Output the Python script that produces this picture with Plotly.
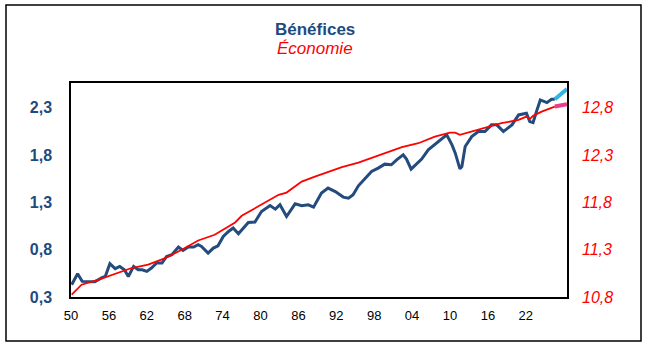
import plotly.graph_objects as go

# ---- data ----
profit_years = [1950.1, 1951.0, 1951.7, 1952.6, 1953.6, 1954.7, 1955.2, 1955.9, 1956.7, 1957.4,
                1958.1, 1958.7, 1959.5, 1960.2, 1960.8, 1961.5, 1962.2, 1963.0, 1963.8, 1964.5,
                1965.3, 1966.3, 1967.0, 1967.8, 1968.6, 1969.3, 1969.8, 1970.8, 1971.6, 1972.3,
                1973.1, 1973.9, 1974.6, 1975.4, 1976.9, 1977.9, 1978.9, 1980.2, 1981.0, 1981.7,
                1982.7, 1984.0, 1985.0, 1986.0, 1986.8, 1988.0, 1989.0, 1990.1, 1991.3, 1992.1,
                1992.8, 1993.6, 1994.6, 1995.6, 1996.6, 1997.6, 1998.6, 1999.4, 2000.4, 2000.9,
                2001.6, 2002.5, 2003.2, 2004.2, 2005.7, 2007.0, 2007.8, 2008.3, 2009.0, 2009.3,
                2009.8, 2010.8, 2011.8, 2012.8, 2013.8, 2014.6, 2015.6, 2016.9, 2017.9, 2019.1,
                2019.6, 2020.1, 2020.7, 2021.2, 2022.2, 2022.9, 2023.4]
profits = [0.43, 0.546, 0.465, 0.465, 0.461, 0.504, 0.517, 0.651, 0.599, 0.623,
           0.588, 0.517, 0.623, 0.588, 0.588, 0.570, 0.606, 0.659, 0.659, 0.728,
           0.746, 0.827, 0.792, 0.827, 0.827, 0.852, 0.834, 0.764, 0.817, 0.841,
           0.939, 0.992, 1.028, 0.968, 1.087, 1.091, 1.203, 1.266, 1.228, 1.274,
           1.150, 1.284, 1.263, 1.274, 1.249, 1.397, 1.450, 1.414, 1.355, 1.344,
           1.379, 1.474, 1.555, 1.625, 1.661, 1.703, 1.696, 1.748, 1.801, 1.756,
           1.650, 1.714, 1.756, 1.854, 1.941, 2.012, 1.907, 1.819, 1.653, 1.678,
           1.889, 1.994, 2.047, 2.047, 2.118, 2.118, 2.047, 2.118, 2.223, 2.241,
           2.152, 2.142, 2.276, 2.381, 2.353, 2.389, 2.389]
profit_recent_years = [2023.4, 2025.25]
profit_recent = [2.389, 2.497]

econ_years = [1950.1, 1951.6, 1954.1, 1956.7, 1959.2, 1961.7, 1964.3, 1966.8, 1969.3, 1971.8,
              1974.9, 1975.9, 1978.4, 1980.5, 1981.5, 1982.7, 1985.0, 1987.0, 1989.6, 1991.1,
              1993.6, 1996.1, 1999.2, 2000.2, 2002.7, 2005.2, 2007.5, 2008.3, 2009.0, 2010.8,
              2012.8, 2015.3, 2017.9, 2019.1, 2019.6, 2020.1, 2021.4, 2022.9, 2023.4]
economy = [10.824, 10.930, 10.982, 11.046, 11.106, 11.141, 11.211, 11.299, 11.397, 11.457,
           11.587, 11.658, 11.756, 11.834, 11.879, 11.903, 12.019, 12.072, 12.135, 12.171,
           12.220, 12.283, 12.354, 12.382, 12.424, 12.494, 12.536, 12.536, 12.512, 12.547,
           12.583, 12.635, 12.670, 12.705, 12.678, 12.713, 12.758, 12.804, 12.811]
econ_recent_years = [2023.4, 2025.25]
econ_recent = [12.811, 12.836]

x_tick_labels = ["50", "56", "62", "68", "74", "80", "86", "92", "98", "04", "10", "16", "22"]
x_tick_step = 5.75  # labels every 23 quarters
left_ticks = [0.3, 0.8, 1.3, 1.8, 2.3]
right_ticks = [10.8, 11.3, 11.8, 12.3, 12.8]

NAVY = "#1F4A7E"
RED = "#FF0000"
FONT = "Liberation Sans, Arial, sans-serif"

fig = go.Figure()
fig.add_trace(go.Scatter(x=profit_years, y=profits, mode="lines",
                         line=dict(color="#234B7D", width=3), yaxis="y", showlegend=False))
fig.add_trace(go.Scatter(x=profit_recent_years, y=profit_recent, mode="lines",
                         line=dict(color="#2FB4E6", width=4), yaxis="y", showlegend=False))
fig.add_trace(go.Scatter(x=econ_years, y=economy, mode="lines",
                         line=dict(color=RED, width=1.8), yaxis="y2", showlegend=False))
fig.add_trace(go.Scatter(x=econ_recent_years, y=econ_recent, mode="lines",
                         line=dict(color="#EC3B8D", width=4), yaxis="y2", showlegend=False))

tickvals_x = [1950 + x_tick_step * i for i in range(len(x_tick_labels))]

fig.update_layout(
    width=651, height=351,
    margin=dict(l=71, r=84, t=83, b=54),
    paper_bgcolor="white", plot_bgcolor="white",
    font=dict(family=FONT),
    xaxis=dict(range=[1950, 2025.25], tickvals=tickvals_x, ticktext=x_tick_labels,
               showgrid=False, zeroline=False, showline=True, linecolor="black",
               linewidth=1.5, mirror=True, ticks="", ticklabelstandoff=6,
               tickfont=dict(family=FONT, size=13, color="black")),
    yaxis=dict(range=[0.3, 2.56], tickvals=left_ticks,
               ticktext=[f"{v:.1f}".replace(".", ",") for v in left_ticks],
               showgrid=False, zeroline=False, showline=True, linecolor="black",
               linewidth=1.5, mirror=True, ticks="", ticklabelstandoff=14,
               tickfont=dict(family=FONT, size=16, color=NAVY, weight="bold")),
    yaxis2=dict(range=[10.8, 13.06], tickvals=right_ticks,
                ticktext=[f"{v:.1f}".replace(".", ",") for v in right_ticks],
                overlaying="y", side="right",
                showgrid=False, zeroline=False, showline=False, ticks="",
                ticklabelstandoff=14,
                tickfont=dict(family=FONT, size=16, color=RED, style="italic")),
)

# outer frame
fig.add_shape(type="rect", xref="paper", yref="paper",
              x0=(6 - 71) / 496, x1=(641 - 71) / 496,
              y0=(297 - 341) / 214, y1=(297 - 5) / 214,
              line=dict(color="black", width=1.5), fillcolor="rgba(0,0,0,0)")

fig.add_annotation(text="<b>Bénéfices</b>", xref="paper", yref="paper",
                   x=(315 - 71) / 496, y=(297 - 29) / 214, showarrow=False,
                   xanchor="center", yanchor="middle",
                   font=dict(family=FONT, size=17, color=NAVY))
fig.add_annotation(text="<i>Économie</i>", xref="paper", yref="paper",
                   x=(315 - 71) / 496, y=(297 - 48) / 214, showarrow=False,
                   xanchor="center", yanchor="middle",
                   font=dict(family=FONT, size=17, color=RED))

fig.write_html("out.html")
